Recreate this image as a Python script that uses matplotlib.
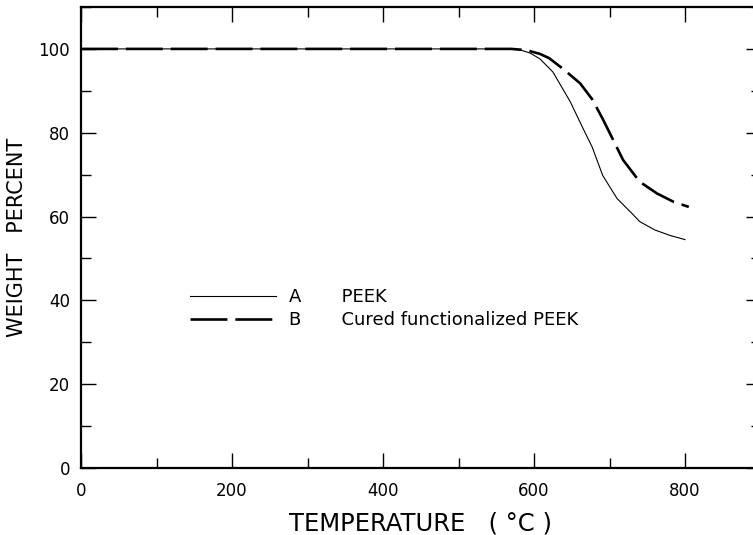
import matplotlib
matplotlib.use("Agg")
import matplotlib.pyplot as plt
from matplotlib.ticker import MultipleLocator

# Data
temp_a = [0, 100, 200, 300, 400, 500, 560, 581, 595, 608, 625, 648, 665, 677, 691, 710, 731, 740, 760, 780, 800]
wt_a = [100, 100, 100, 100, 100, 100, 100, 99.8, 99.0, 97.6, 94.5, 87.4, 81.0, 76.6, 69.8, 64.3, 60.5, 58.8, 56.8, 55.5, 54.5]

temp_b = [0, 100, 200, 300, 400, 500, 570, 590, 608, 620, 638, 661, 677, 691, 707, 718, 740, 763, 785, 805]
wt_b = [100, 100, 100, 100, 100, 100, 100, 99.7, 98.8, 97.8, 95.3, 91.8, 88.0, 83.3, 77.5, 73.5, 68.3, 65.5, 63.5, 62.3]

label_a = ("A", "PEEK")
label_b = ("B", "Cured functionalized PEEK")
x_ticks = [0, 200, 400, 600, 800]
y_ticks = [0, 20, 40, 60, 80, 100]

fig = plt.figure(figsize=(7.53, 5.35), dpi=100)
ax = fig.add_axes([81/753, 67/535, 679.5/753, 461/535])

gap = " " * 7
ax.plot(temp_a, wt_a, color="black", lw=0.8, label=f"{label_a[0]}{gap}{label_a[1]}")
ax.plot(temp_b, wt_b, color="black", lw=1.9, dashes=(14, 3),
        label=f"{label_b[0]}{gap}{label_b[1]}")

ax.set_xlim(0, 900)
ax.set_ylim(0, 110)
ax.set_xticks(x_ticks)
ax.set_yticks(y_ticks)
ax.xaxis.set_minor_locator(MultipleLocator(100))
ax.yaxis.set_minor_locator(MultipleLocator(10))
ax.tick_params(which="both", direction="in", top=True, right=True, width=1.0, color="black")
ax.tick_params(which="major", length=11)
ax.tick_params(which="minor", length=7)
ax.tick_params(axis="x", which="major", pad=10, labelsize=12)
ax.tick_params(axis="y", which="major", pad=8, labelsize=12)
for s in ax.spines.values():
    s.set_linewidth(1.6)

ax.set_xlabel("TEMPERATURE   ( °C )", fontsize=17.5)
ax.set_ylabel("WEIGHT   PERCENT", fontsize=15)
ax.xaxis.set_label_coords(0.5, -0.095)
ax.yaxis.set_label_coords(-0.080, 0.5)

ax.legend(loc="upper left", bbox_to_anchor=(0.160, 0.390), frameon=False, fontsize=13,
          handlelength=4.8, handletextpad=0.72, labelspacing=0.28, borderpad=0, borderaxespad=0)

fig.savefig("out.png", dpi=100)
